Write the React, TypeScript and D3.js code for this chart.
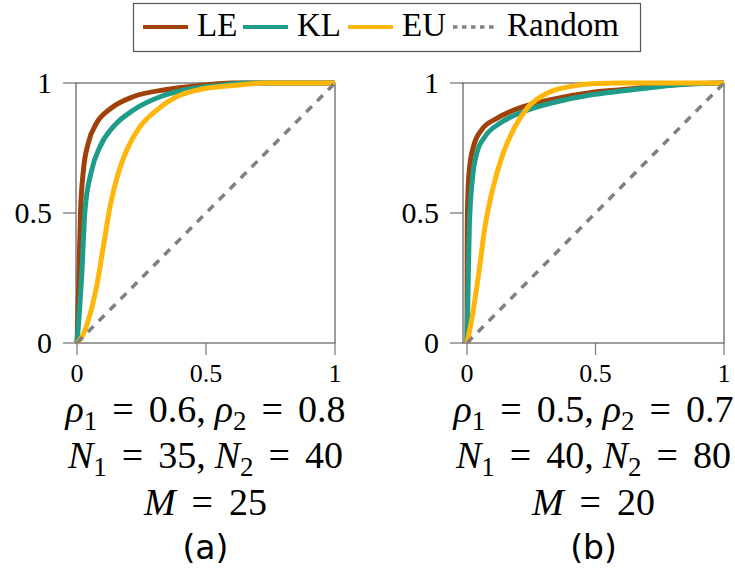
import React, { useEffect, useRef } from 'react'
import * as d3 from 'd3'

// legend entries and their colours
const seriesNames = ['LE', 'KL', 'EU', 'Random']
const seriesColors = ['#a0410a', '#1f9c89', '#ffb60a', '#808080']

// axis ticks
const tickValues = [0, 0.5, 1]
const tickLabels = ['0', '0.5', '1']

// panel (a): false positive rate / true positive rate
const aLEx = [0, 0.004, 0.009, 0.014, 0.025, 0.044, 0.076, 0.128, 0.217, 0.348, 0.477, 0.6, 1]
const aLEy = [0, 0.12, 0.32, 0.51, 0.665, 0.77, 0.846, 0.9, 0.947, 0.975, 0.99, 1, 1]
const aKLx = [0, 0.008, 0.018, 0.031, 0.057, 0.089, 0.141, 0.219, 0.322, 0.425, 0.541, 0.66, 1]
const aKLy = [0, 0.1, 0.255, 0.51, 0.665, 0.755, 0.832, 0.896, 0.947, 0.975, 0.99, 1, 1]
const aEUx = [0, 0.02, 0.044, 0.076, 0.102, 0.128, 0.16, 0.193, 0.244, 0.309, 0.386, 0.477, 0.606, 0.73, 1]
const aEUy = [0, 0.025, 0.088, 0.217, 0.37, 0.524, 0.653, 0.742, 0.832, 0.896, 0.947, 0.975, 0.99, 1, 1]

// panel (b)
const bLEx = [0, 0.001, 0.004, 0.009, 0.025, 0.057, 0.116, 0.219, 0.349, 0.479, 0.608, 0.738, 0.868, 1]
const bLEy = [0, 0.447, 0.58, 0.665, 0.755, 0.82, 0.864, 0.909, 0.941, 0.963, 0.975, 0.988, 0.997, 1]
const bKLx = [0, 0.004, 0.009, 0.022, 0.038, 0.07, 0.128, 0.219, 0.349, 0.479, 0.608, 0.738, 0.868, 1]
const bKLy = [0, 0.2, 0.447, 0.64, 0.73, 0.794, 0.845, 0.89, 0.928, 0.954, 0.97, 0.985, 0.996, 1]
const bEUx = [0, 0.018, 0.044, 0.07, 0.102, 0.141, 0.187, 0.239, 0.31, 0.4, 0.5, 0.6, 1]
const bEUy = [0, 0.088, 0.255, 0.447, 0.6, 0.73, 0.832, 0.909, 0.96, 0.986, 0.998, 1, 1]

const randomX = [0, 1]
const randomY = [0, 1]

// caption parameters
const rho1 = ['0.6', '0.5']
const rho2 = ['0.8', '0.7']
const n1 = ['35', '40']
const n2 = ['40', '80']
const mVals = ['25', '20']
const panelTags = ['(a)', '(b)']

const SERIF = 'Liberation Serif, DejaVu Serif, serif'

export default function App() {
  const ref = useRef<SVGSVGElement>(null)

  useEffect(() => {
    const svg = d3.select(ref.current)
    svg.selectAll('*').remove()

    const panels = [
      { left: 76, right: 335, zero: 77, data: [[aLEx, aLEy], [aKLx, aKLy], [aEUx, aEUy], [randomX, randomY]] },
      { left: 463, right: 724, zero: 467, data: [[bLEx, bLEy], [bKLx, bKLy], [bEUx, bEUy], [randomX, randomY]] },
    ]
    const top = 83, bottom = 343

    panels.forEach((p, pi) => {
      const x = d3.scaleLinear().domain([0, 1]).range([p.zero, p.right])
      const y = d3.scaleLinear().domain([0, 1]).range([bottom, top])
      const g = svg.append('g')

      // frame
      g.append('rect')
        .attr('x', p.left).attr('y', top)
        .attr('width', p.right - p.left).attr('height', bottom - top)
        .attr('fill', 'none').attr('stroke', '#3a3a3a').attr('stroke-width', 1)

      // ticks
      tickValues.forEach((v, i) => {
        g.append('line')
          .attr('x1', p.left - 13).attr('x2', p.left)
          .attr('y1', y(v)).attr('y2', y(v))
          .attr('stroke', '#555').attr('stroke-width', 1)
        g.append('text')
          .attr('x', p.left - 24).attr('y', y(v)).attr('dy', '0.34em')
          .attr('text-anchor', 'end')
          .style('font-family', SERIF).attr('font-size', 30)
          .text(tickLabels[i])
        g.append('line')
          .attr('x1', x(v)).attr('x2', x(v))
          .attr('y1', bottom).attr('y2', bottom + 12)
          .attr('stroke', '#777').attr('stroke-width', 1.2)
        g.append('text')
          .attr('x', x(v)).attr('y', 382)
          .attr('text-anchor', 'middle')
          .style('font-family', SERIF).attr('font-size', 26)
          .text(tickLabels[i])
      })

      // curves
      p.data.forEach(([xs, ys], si) => {
        const pts = xs.map((v, k) => [v, ys[k]] as [number, number])
        const line = d3.line<[number, number]>()
          .x(d => x(d[0])).y(d => y(d[1]))
          .curve(si === 3 ? d3.curveLinear : d3.curveMonotoneX)
        const path = g.append('path')
          .attr('d', line(pts))
          .attr('fill', 'none')
          .attr('stroke', seriesColors[si])
          .attr('stroke-width', si === 3 ? 3.5 : 5)
          .attr('stroke-linejoin', 'round')
        if (si === 3) path.attr('stroke-dasharray', '8 7.5')
      })

      // caption, math-like lines built from tspans
      const cx = (p.left + p.right) / 2
      const addMath = (yy: number, parts: { t: string; it?: boolean; sub?: boolean; gap?: number }[]) => {
        const t = g.append('text')
          .attr('x', cx).attr('y', yy).attr('text-anchor', 'middle')
          .style('font-family', SERIF).style('font-size', '38px')
        let shifted = false
        parts.forEach(pt => {
          const ts = t.append('tspan').text(pt.t).style('font-family', SERIF)
          if (pt.it) ts.style('font-style', 'italic')
          let dy = 0
          if (pt.sub && !shifted) { dy = 8; shifted = true }
          if (!pt.sub && shifted) { dy = -8; shifted = false }
          if (dy) ts.attr('dy', dy)
          if (pt.sub) ts.style('font-size', '27px')
          if (pt.gap) ts.attr('dx', pt.gap)
        })
      }
      addMath(422, [
        { t: 'ρ', it: true }, { t: '1', sub: true }, { t: '=', gap: 15 }, { t: rho1[pi], gap: 15 },
        { t: ',' }, { t: 'ρ', it: true, gap: 9 }, { t: '2', sub: true }, { t: '=', gap: 15 }, { t: rho2[pi], gap: 15 },
      ])
      addMath(468, [
        { t: 'N', it: true }, { t: '1', sub: true }, { t: '=', gap: 15 }, { t: n1[pi], gap: 15 },
        { t: ',' }, { t: 'N', it: true, gap: 9 }, { t: '2', sub: true }, { t: '=', gap: 15 }, { t: n2[pi], gap: 15 },
      ])
      addMath(515, [
        { t: 'M', it: true }, { t: '=', gap: 16 }, { t: mVals[pi], gap: 16 },
      ])

      g.append('text')
        .attr('x', cx).attr('y', 559)
        .attr('text-anchor', 'middle')
        .style('font-family', 'DejaVu Sans, Noto Sans, sans-serif')
        .attr('font-size', 33)
        .text(panelTags[pi])
    })

    // legend
    const lg = svg.append('g')
    lg.append('rect')
      .attr('x', 133.5).attr('y', 3.5).attr('width', 507).attr('height', 48)
      .attr('fill', '#fff').attr('stroke', '#555').attr('stroke-width', 1.2)
    const itemX = [143, 243, 348, 453]
    seriesNames.forEach((name, i) => {
      const l = lg.append('line')
        .attr('x1', itemX[i]).attr('x2', itemX[i] + 45)
        .attr('y1', 27).attr('y2', 27)
        .attr('stroke', seriesColors[i])
        .attr('stroke-width', i === 3 ? 3.5 : 4)
      if (i === 3) l.attr('stroke-dasharray', '4.5 4.5')
      lg.append('text')
        .attr('x', itemX[i] + 54).attr('y', 36)
        .style('font-family', SERIF).attr('font-size', 33)
        .text(name)
    })
  }, [])

  return (
    <svg ref={ref} width={735} height={577}
      style={{ position: 'absolute', left: 0, top: 0, background: '#fff' }} />
  )
}
